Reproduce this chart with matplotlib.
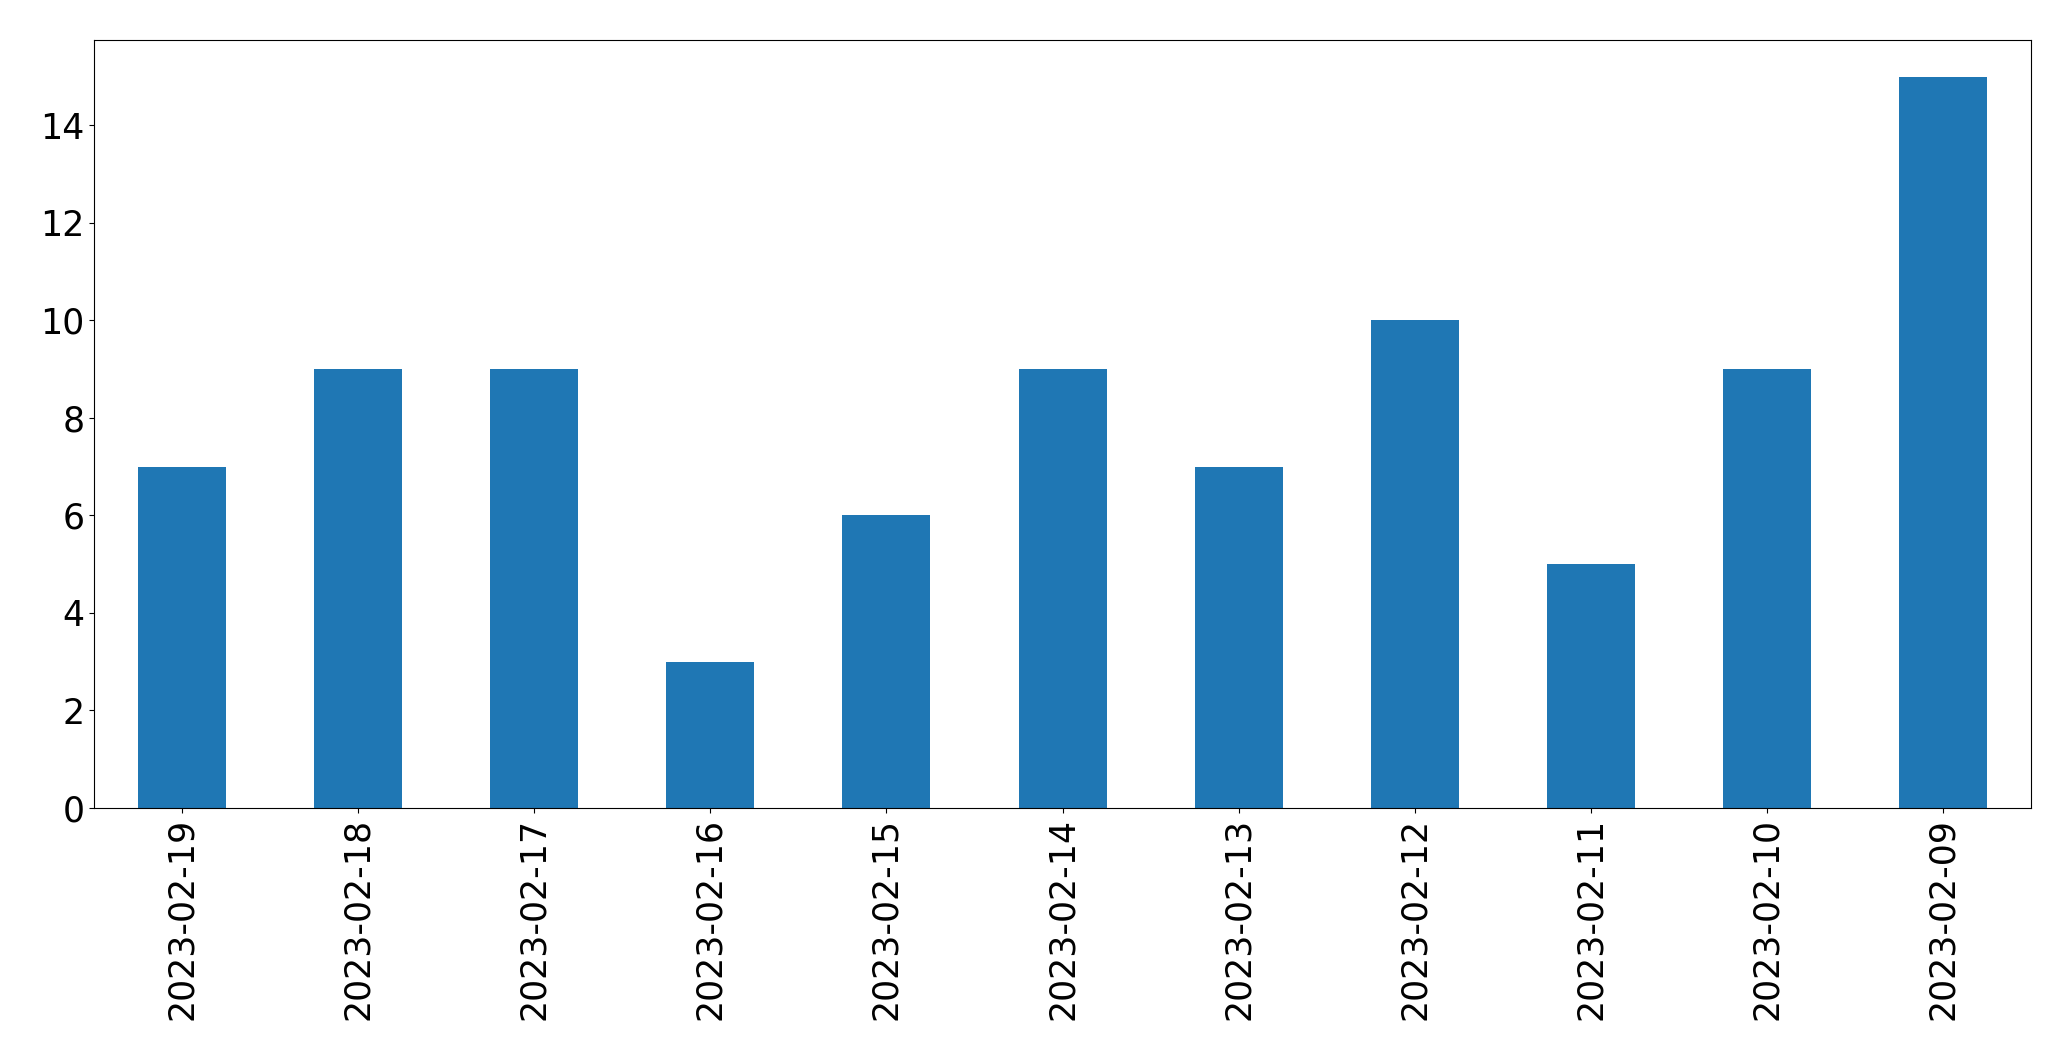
import matplotlib
matplotlib.use("Agg")
import matplotlib.pyplot as plt

# data
dates = ["2023-02-19", "2023-02-18", "2023-02-17", "2023-02-16", "2023-02-15",
         "2023-02-14", "2023-02-13", "2023-02-12", "2023-02-11", "2023-02-10",
         "2023-02-09"]
counts = [7, 9, 9, 3, 6, 9, 7, 10, 5, 9, 15]

fig = plt.figure(figsize=(20.71, 10.61), dpi=100)
ax = fig.add_axes([0.0454, 0.2385, 0.9353, 0.7238])

ax.bar(range(len(dates)), counts, width=0.5, color="#1f77b4")
ax.set_xlim(-0.5, len(dates) - 0.5)
ax.set_ylim(0, max(counts) * 1.05)
ax.set_xticks(range(len(dates)))
ax.set_xticklabels(dates, rotation=90)
ax.tick_params(labelsize=25)

fig.savefig("out.png", dpi=100)
